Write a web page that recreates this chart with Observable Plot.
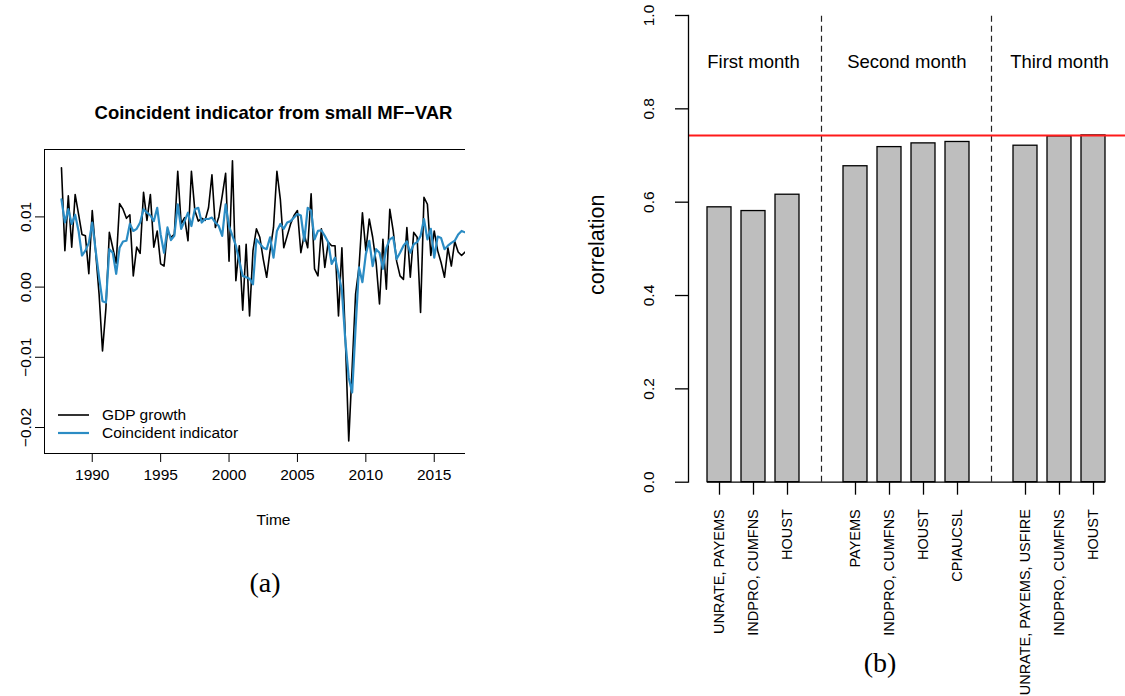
<!DOCTYPE html>
<html><head><meta charset="utf-8">
<script src="https://cdn.jsdelivr.net/npm/d3@7"></script>
<script src="https://cdn.jsdelivr.net/npm/@observablehq/plot@0.6"></script>
<style>
body{margin:0;background:#fff;}
#root{position:relative;width:1125px;height:696px;overflow:hidden;font-family:"Liberation Sans",Arial,sans-serif;color:#000;}
.abs{position:absolute;}
.cap{position:absolute;font-family:"Liberation Serif","Times New Roman",serif;font-size:28px;transform:translate(-50%,-50%);white-space:nowrap;}
svg{max-width:none !important;}
</style></head><body><div id="root"></div>
<script>
// ---------- Panel (a): data ----------
const chartTitle = "Coincident indicator from small MF\u2212VAR";
const xAxisLabel = "Time";
const startYear = 1987.75; // 1987 Q4, quarterly
const endYear = 2018.75;   // last quarter of the full series (figure is trimmed on the right)
const gdpGrowth = [
 0.0170,0.0052,0.0130,0.0057,0.0132,0.0104,0.0075,0.0073,0.0019,0.0109,
 0.0050,-0.0010,-0.0091,-0.0030,0.0078,0.0056,0.0034,0.0119,0.0111,0.0098,
 0.0103,0.0016,0.0057,0.0048,0.0135,0.0095,0.0132,0.0057,0.0080,0.0033,
 0.0030,0.0080,0.0071,0.0075,0.0165,0.0090,0.0099,0.0066,0.0165,0.0109,
 0.0094,0.0098,0.0095,0.0113,0.0160,0.0085,0.0100,0.0130,0.0162,0.0037,
 0.0180,0.0009,0.0059,-0.0033,0.0061,-0.0041,0.0052,0.0083,0.0071,0.0040,
 0.0014,0.0052,0.0085,0.0165,0.0125,0.0056,0.0073,0.0090,0.0102,0.0109,
 0.0049,0.0075,0.0056,0.0133,0.0026,0.0016,0.0083,0.0028,0.0064,0.0059,
 0.0059,-0.0041,0.0056,-0.0072,-0.0219,-0.0115,-0.0010,0.0028,0.0106,0.0052,
 0.0097,0.0071,0.0035,-0.0024,0.0068,-0.0003,0.0111,0.0080,0.0037,0.0016,
 0.0011,0.0085,0.0014,0.0078,0.0071,-0.0036,0.0128,0.0118,0.0045,0.0080,
 0.0052,0.0035,0.0014,0.0056,0.0030,0.0065,0.0050,0.0045,0.0050
];
const coincident = [
 0.0125,0.0092,0.0111,0.0090,0.0103,0.0080,0.0045,0.0052,0.0063,0.0092,
 0.0052,0.0014,-0.0020,-0.0022,0.0054,0.0049,0.0019,0.0056,0.0065,0.0066,
 0.0090,0.0080,0.0083,0.0092,0.0111,0.0106,0.0102,0.0094,0.0113,0.0075,
 0.0049,0.0085,0.0067,0.0073,0.0118,0.0083,0.0094,0.0106,0.0087,0.0111,
 0.0113,0.0092,0.0097,0.0097,0.0099,0.0092,0.0087,0.0073,0.0118,0.0087,
 0.0073,0.0059,0.0037,0.0016,0.0014,0.0012,0.0004,0.0068,0.0062,0.0056,
 0.0054,0.0071,0.0042,0.0080,0.0090,0.0083,0.0092,0.0094,0.0099,0.0104,
 0.0102,0.0066,0.0113,0.0109,0.0068,0.0080,0.0081,0.0073,0.0064,0.0033,
 0.0042,0.0019,-0.0005,-0.0076,-0.0129,-0.0150,-0.0058,0.0028,0.0007,0.0047,
 0.0066,0.0030,0.0054,0.0049,0.0026,0.0056,0.0068,0.0071,0.0040,0.0049,
 0.0059,0.0065,0.0049,0.0061,0.0064,0.0073,0.0097,0.0068,0.0083,0.0042,
 0.0072,0.0070,0.0054,0.0059,0.0063,0.0066,0.0075,0.0080,0.0078
];
const seriesNames = ["GDP growth", "Coincident indicator"];
const seriesColors = ["#000000", "#2b8cc4"];
const xTickYears = [1990, 1995, 2000, 2005, 2010, 2015];
const yTickValues = [-0.02, -0.01, 0.00, 0.01];
const yTickLabels = ["\u22120.02", "\u22120.01", "0.00", "0.01"];

// ---------- Panel (b): data ----------
const groupNames = ["First month", "Second month", "Third month"];
const barLabels = ["UNRATE, PAYEMS", "INDPRO, CUMFNS", "HOUST",
  "PAYEMS", "INDPRO, CUMFNS", "HOUST", "CPIAUCSL",
  "UNRATE, PAYEMS, USFIRE", "INDPRO, CUMFNS", "HOUST"];
const barGroup = [0,0,0,1,1,1,1,2,2,2];
const barValues = [0.589, 0.581, 0.616, 0.677, 0.718, 0.726, 0.729, 0.721, 0.741, 0.743];
const benchmark = 0.743;
const corrTicks = [0, 0.2, 0.4, 0.6, 0.8, 1.0];
const corrTickLabels = ["0.0", "0.2", "0.4", "0.6", "0.8", "1.0"];
const corrAxisLabel = "correlation";
const captions = ["(a)", "(b)"];

const root = document.getElementById("root");
const FONT = "Liberation Sans, Arial, sans-serif";

// ---------- Panel (a) ----------
const quarters = gdpGrowth.map((_, i) => startYear + i * 0.25);
const gdpData = gdpGrowth.map((v, i) => ({t: quarters[i], v}));
const indData = coincident.map((v, i) => ({t: quarters[i], v}));
const pad = (endYear - startYear) * 0.04;

const left = Plot.plot({
  width: 545, height: 545,
  marginLeft: 44, marginRight: 43, marginTop: 149, marginBottom: 92,
  style: {fontFamily: FONT, fontSize: "15.5px", background: "transparent", overflow: "visible", color: "#000"},
  x: {domain: [startYear - pad, endYear + pad], axis: null},
  y: {domain: [-0.0237, 0.0196], axis: null},
  marks: [
    Plot.line(gdpData, {x: "t", y: "v", stroke: seriesColors[0], strokeWidth: 1.6}),
    Plot.line(indData, {x: "t", y: "v", stroke: seriesColors[1], strokeWidth: 2.2}),
    Plot.frame({stroke: "#000", strokeWidth: 1}),
    Plot.axisX({ticks: xTickYears, tickSize: 9, tickPadding: 6, tickFormat: d => String(d), fontSize: 15.5, label: null}),
    Plot.axisY({ticks: yTickValues, tickSize: 9, tickFormat: () => "", label: null}),
    Plot.text(yTickValues, {y: d => d, text: (d, i) => yTickLabels[i], frameAnchor: "left", rotate: -90, dx: -18, textAnchor: "middle", lineAnchor: "middle", fontSize: 15.5}),
    Plot.text([chartTitle], {text: d => d, frameAnchor: "top", dy: -36, lineAnchor: "middle", fontWeight: "bold", fontSize: 18.5}),
    Plot.text([xAxisLabel], {text: d => d, frameAnchor: "bottom", dy: 67, lineAnchor: "middle", fontSize: 15.5})
  ]
});
left.style.maxWidth = "none";
left.setAttribute("width", 545);
// the figure is trimmed on the right, as in the reference
const clip = document.createElement("div");
clip.className = "abs";
clip.style.cssText = "left:0px;top:0px;width:465px;height:545px;overflow:hidden;";
clip.appendChild(left);
root.appendChild(clip);

// legend for panel (a)
seriesNames.forEach((name, i) => {
  const row = document.createElement("div");
  row.className = "abs";
  row.style.cssText = `left:58px;top:${406 + i * 18.3}px;height:18px;display:flex;align-items:center;font-size:15.5px;font-family:${FONT};white-space:nowrap;`;
  row.innerHTML = `<svg width="31" height="18" style="margin-right:13px"><line x1="0" x2="31" y1="9" y2="9" stroke="${seriesColors[i]}" stroke-width="${i ? 2.2 : 1.6}"/></svg><span>${name}</span>`;
  root.appendChild(row);
});

// ---------- Panel (b) ----------
const bars = barLabels.map((label, i) => ({key: "b" + i, label, value: barValues[i], group: barGroup[i]}));
const domain = [];
const gapKeys = [];
bars.forEach((b, i) => {
  if (i > 0 && b.group !== bars[i - 1].group) { const g = "g" + gapKeys.length; gapKeys.push(g); domain.push(g); }
  domain.push(b.key);
});
const groupAnchors = groupNames.map((name, g) => {
  const members = bars.filter(b => b.group === g);
  const mid = Math.floor((members.length - 1) / 2);
  return {name, key: members[mid].key, even: members.length % 2 === 0};
});

const right = Plot.plot({
  width: 565, height: 696,
  marginLeft: 128, marginRight: 0, marginTop: 15, marginBottom: 214.3,
  style: {fontFamily: FONT, fontSize: "15.5px", background: "transparent", overflow: "visible", color: "#000"},
  x: {type: "band", domain, paddingInner: 0.29, paddingOuter: 0.45, axis: null},
  y: {domain: [0, 1], axis: null},
  marks: [
    Plot.barY(bars, {x: "key", y: "value", fill: "#bebebe", stroke: "#000", strokeWidth: 1.3}),
    Plot.ruleX(gapKeys, {x: d => d, y1: 0, y2: 1, stroke: "#222", strokeWidth: 1.2, strokeDasharray: "6,4"}),
    Plot.ruleY([benchmark], {stroke: "#ff1a1a", strokeWidth: 2}),
    Plot.ruleY([0], {x1: () => domain[0], x2: () => domain[domain.length - 1], stroke: "#000", strokeWidth: 1.3}),
    Plot.frame({anchor: "left", stroke: "#000", strokeWidth: 1.3}),
    Plot.axisY({ticks: corrTicks, tickSize: 13, tickFormat: () => "", strokeWidth: 1.3, label: null}),
    Plot.text(corrTicks, {y: d => d, text: (d, i) => corrTickLabels[i], frameAnchor: "left", rotate: -90, dx: -39, textAnchor: "middle", lineAnchor: "middle", fontSize: 15.5}),
    Plot.text([corrAxisLabel], {text: d => d, frameAnchor: "left", rotate: -90, dx: -91, dy: -4, textAnchor: "middle", lineAnchor: "middle", fontSize: 21.5}),
    Plot.axisX({ticks: bars.map(b => b.key), tickSize: 13, tickFormat: () => "", strokeWidth: 1.3, label: null}),
    Plot.text(bars, {x: "key", text: "label", frameAnchor: "bottom", rotate: -90, textAnchor: "end", lineAnchor: "middle", dy: 27, fontSize: 14.5}),
    Plot.text(groupAnchors.filter(a => !a.even), {x: "key", y: 0.9, text: "name", fontSize: 18.5, lineAnchor: "middle"}),
    Plot.text(groupAnchors.filter(a => a.even), {x: "key", y: 0.9, text: "name", fontSize: 18.5, lineAnchor: "middle", dx: 17.3})
  ]
});
right.style.position = "absolute"; right.style.left = "560px"; right.style.top = "0px";
root.appendChild(right);

// captions
const capPos = [[265, 583], [880, 663]];
captions.forEach((c, i) => {
  const d = document.createElement("div");
  d.className = "cap";
  d.style.left = capPos[i][0] + "px"; d.style.top = capPos[i][1] + "px";
  d.textContent = c;
  root.appendChild(d);
});
</script></body></html>
